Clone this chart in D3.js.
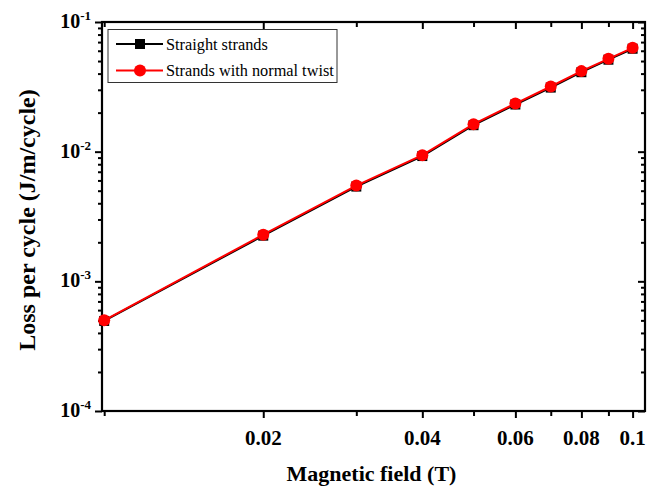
<!DOCTYPE html>
<html><head><meta charset="utf-8">
<script src="https://cdn.jsdelivr.net/npm/d3@7"></script>
<style>body{margin:0;background:#fff} svg text{font-family:"Liberation Serif","Tinos","Times New Roman",Times,"DejaVu Serif",serif;}</style>
</head><body>
<svg id="c" width="654" height="488"></svg>
<script>
const fields = [0.01,0.02,0.03,0.04,0.05,0.06,0.07,0.08,0.09,0.1];
const straight = [4.95e-4,2.25e-3,5.38e-3,9.25e-3,1.6e-2,2.31e-2,3.12e-2,4.1e-2,5.12e-2,6.22e-2];
const twisted = [5.0e-4,2.29e-3,5.48e-3,9.4e-3,1.63e-2,2.35e-2,3.18e-2,4.18e-2,5.2e-2,6.32e-2];
const xTickLabels = [0.02,0.04,0.06,0.08,0.1];
const xMinor = [0.01,0.03,0.05,0.07,0.09];
const yTicks = [1e-4,1e-3,1e-2,1e-1];
const yTickExp = ["-4","-3","-2","-1"];
const seriesNames = ["Straight strands","Strands with normal twist"];

const svg = d3.select("#c");
const L=102, R=645, T=22, B=411;
const x = d3.scaleLog().domain([0.009905,0.10555]).range([L,R]);
const y = d3.scaleLog().domain([1e-4,1e-1]).range([B,T]);

const yMinor = [];
for (let e=-4;e<-1;e++) for (let k=2;k<=9;k++) yMinor.push(k*Math.pow(10,e));

const g = svg.append("g");
g.append("g").attr("transform",`translate(${L},0)`)
  .call(d3.axisLeft(y).tickValues(yTicks).tickSize(7).tickFormat(""));
g.append("g").attr("transform",`translate(${L},0)`)
  .call(d3.axisLeft(y).tickValues(yMinor).tickSize(4).tickFormat(""));
g.append("g").attr("transform",`translate(${R},0)`)
  .call(d3.axisRight(y).tickValues(yTicks).tickSize(-7).tickFormat(""));
g.append("g").attr("transform",`translate(${R},0)`)
  .call(d3.axisRight(y).tickValues(yMinor).tickSize(-4).tickFormat(""));
g.append("g").attr("transform",`translate(0,${B})`)
  .call(d3.axisBottom(x).tickValues(xTickLabels).tickSize(7).tickFormat(""));
g.append("g").attr("transform",`translate(0,${B})`)
  .call(d3.axisBottom(x).tickValues(xMinor).tickSize(5).tickFormat(""));
g.append("g").attr("transform",`translate(0,${T})`)
  .call(d3.axisTop(x).tickValues(xTickLabels).tickSize(-7).tickFormat(""));
g.append("g").attr("transform",`translate(0,${T})`)
  .call(d3.axisTop(x).tickValues(xMinor).tickSize(-5).tickFormat(""));

g.selectAll(".domain").remove();
g.selectAll(".tick line").attr("stroke","#000").attr("stroke-width",2);

svg.append("rect").attr("x",L).attr("y",T).attr("width",R-L).attr("height",B-T)
  .attr("fill","none").attr("stroke","#000").attr("stroke-width",2.2);

svg.append("g").selectAll("text").data(xTickLabels).join("text")
  .attr("x",d=>x(d)).attr("y",B+34).attr("text-anchor","middle")
  .attr("font-weight","bold").attr("font-size",21)
  .text(d=>d===0.1?"0.1":d.toFixed(2));

const yl = svg.append("g").selectAll("text").data(yTicks).join("text")
  .attr("x",L-11).attr("y",d=>y(d)+6).attr("text-anchor","end")
  .attr("font-weight","bold").attr("font-size",20);
yl.append("tspan").text("10");
yl.append("tspan").attr("dy",-8).attr("font-size",13).text((d,i)=>yTickExp[i]);

svg.append("text").attr("x",(L+R)/2 - 2).attr("y",481).attr("text-anchor","middle")
  .attr("font-weight","bold").attr("font-size",22)
  .text("Magnetic field (T)");
svg.append("text").attr("transform",`translate(35,220) rotate(-90)`)
  .attr("text-anchor","middle")
  .attr("font-weight","bold").attr("font-size",24)
  .text("Loss per cycle (J/m/cycle)");

const line = d3.line().x(d=>x(d[0])).y(d=>y(d[1]));
const sData = fields.map((f,i)=>[f,straight[i]]);
const tData = fields.map((f,i)=>[f,twisted[i]]);
svg.append("path").datum(sData).attr("d",line).attr("fill","none").attr("stroke","#000").attr("stroke-width",2);
svg.append("g").selectAll("rect").data(sData).join("rect")
  .attr("x",d=>x(d[0])-5).attr("y",d=>y(d[1])-5).attr("width",10).attr("height",10).attr("fill","#000");
svg.append("path").datum(tData).attr("d",line).attr("fill","none").attr("stroke","#f00").attr("stroke-width",2);
svg.append("g").selectAll("circle").data(tData).join("circle")
  .attr("cx",d=>x(d[0])).attr("cy",d=>y(d[1])).attr("r",6).attr("fill","#f00");

const lg = svg.append("g");
lg.append("rect").attr("x",108).attr("y",29.5).attr("width",229).attr("height",53)
  .attr("fill","#fff").attr("stroke","#333").attr("stroke-width",1);
const rows=[{c:"#000",m:"sq",y:44},{c:"#f00",m:"ci",y:70.5}];
rows.forEach((r,i)=>{
  lg.append("line").attr("x1",116).attr("x2",163).attr("y1",r.y).attr("y2",r.y)
    .attr("stroke",r.c).attr("stroke-width",2);
  if(r.m==="sq") lg.append("rect").attr("x",135).attr("y",r.y-5).attr("width",10).attr("height",10).attr("fill",r.c);
  else lg.append("circle").attr("cx",140).attr("cy",r.y).attr("r",6).attr("fill",r.c);
  lg.append("text").attr("x",166).attr("y",r.y+5.5).attr("font-size",16.3)
    .text(seriesNames[i]);
});
</script>
</body></html>
